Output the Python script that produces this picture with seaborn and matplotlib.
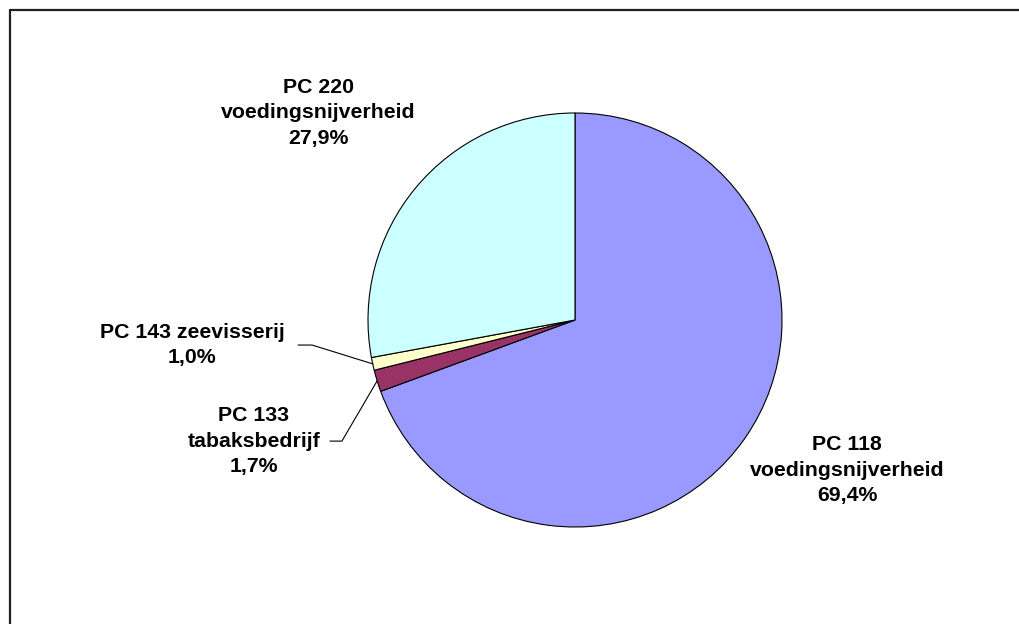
import numpy as np
import matplotlib
matplotlib.use("Agg")
import matplotlib.pyplot as plt
from matplotlib.lines import Line2D
import seaborn as sns

# data
labels = ["PC 118\nvoedingsnijverheid", "PC 133\ntabaksbedrijf", "PC 143 zeevisserij", "PC 220\nvoedingsnijverheid"]
shares = [69.4, 1.7, 1.0, 27.9]
colors = ["#9999FF", "#993366", "#FFFFCC", "#CCFFFF"]

# label positions (pie radius = 1) and leader line anchors
label_pos = [(1.314, -0.725), (-1.551, -0.585), (-1.85, -0.121), (-1.241, 1.0)]
leader_start = [None, (-1.184, -0.585), (-1.338, -0.121), None]
leader_elbow = [None, (-1.126, -0.585), (-1.27, -0.121), None]

sns.set_theme(style="white")
plt.rcParams["font.family"] = ["Liberation Sans", "DejaVu Sans"]

W, H = 1019, 624
fig = plt.figure(figsize=(W / 100, H / 100), dpi=100)
fig.patch.set_facecolor("white")

cx, cy, r = 575, 320, 207
ax = fig.add_axes([(cx - r) / W, (H - cy - r) / H, 2 * r / W, 2 * r / H])

wedges, _ = ax.pie(shares, colors=colors, startangle=90, counterclock=False,
                   radius=1, wedgeprops=dict(edgecolor="black", linewidth=0.8))
ax.set_xlim(-1, 1)
ax.set_ylim(-1, 1)
ax.set_aspect("equal")
ax.axis("off")

for i, (lab, val) in enumerate(zip(labels, shares)):
    txt = f"{lab}\n{val:.1f}%".replace(".", ",")
    x, y = label_pos[i]
    ax.text(x, y, txt, ha="center", va="center", fontsize=15.3, fontweight="bold",
            color="black", linespacing=1.42, clip_on=False)
    if leader_start[i] is not None:
        w = wedges[i]
        mid = np.deg2rad((w.theta1 + w.theta2) / 2)
        px, py = np.cos(mid), np.sin(mid)
        sx, sy = leader_start[i]
        ex, ey = leader_elbow[i]
        ax.plot([sx, ex, px], [sy, ey, py], color="black", lw=0.8, clip_on=False)

# chart frame (only left and top are visible in the crop)
fig.add_artist(Line2D([10 / W, 10 / W], [0, 1 - 10 / H], color="#222222", lw=1.6))
fig.add_artist(Line2D([10 / W, 1], [1 - 10 / H, 1 - 10 / H], color="#222222", lw=1.6))

fig.savefig("out.png", dpi=100, facecolor="white")
